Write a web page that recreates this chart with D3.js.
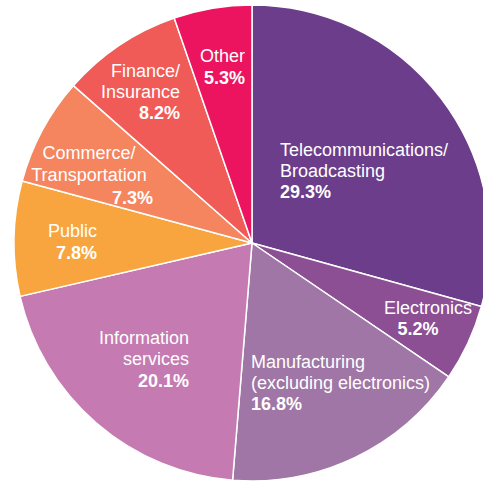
<!DOCTYPE html>
<html>
<head>
<meta charset="utf-8">
<script src="https://cdn.jsdelivr.net/npm/d3@7"></script>
<style>
  body { margin: 0; background: #fff; }
  svg text { font-family: "Liberation Sans", Arial, sans-serif; fill: #fff; }
</style>
</head>
<body>
<svg id="chart"></svg>
<script>
// Data (share of total, %)
const categories = ["Telecommunications/Broadcasting", "Electronics", "Manufacturing (excluding electronics)",
  "Information services", "Public", "Commerce/Transportation", "Finance/Insurance", "Other"];
const shares = [29.3, 5.2, 16.8, 20.1, 7.8, 7.3, 8.2, 5.3];
const labelLines = [
  ["Telecommunications/", "Broadcasting"],
  ["Electronics"],
  ["Manufacturing", "(excluding electronics)"],
  ["Information", "services"],
  ["Public"],
  ["Commerce/", "Transportation"],
  ["Finance/", "Insurance"],
  ["Other"]
];
const colors = ["#6c3d8b", "#8c4f94", "#9f76a5", "#c57ab1", "#f8a53f", "#f4855f", "#f05b57", "#ec145f"];

// Label placement relative to the pie centre: one [dx, dy, anchor] per line, percent last
const labelLayout = [
  [[28, -87, "start"], [28, -66, "start"], [28, -45, "start"]],
  [[220, 71, "end"], [166, 92, "middle"]],
  [[-1, 125, "start"], [-1, 146, "start"], [-1, 167, "start"]],
  [[-63, 101, "end"], [-63, 122, "end"], [-63, 144, "end"]],
  [[-155, -6, "end"], [-155, 16, "end"]],
  [[-163, -84, "middle"], [-163, -62, "middle"], [-99, -39, "end"]],
  [[-72, -166, "end"], [-72, -145, "end"], [-72, -124, "end"]],
  [[-7, -181, "end"], [-7, -159, "end"]]
];

const width = 483, height = 481;
const cx = 252, cy = 243, radius = 238;

const svg = d3.select("#chart")
  .attr("width", width)
  .attr("height", height);

const g = svg.append("g")
  .attr("transform", "translate(" + cx + "," + cy + ")");

const data = categories.map((c, i) => ({ name: c, value: shares[i], i: i }));

const pie = d3.pie()
  .sort(null)
  .value(d => d.value);

const arc = d3.arc()
  .innerRadius(0)
  .outerRadius(radius);

const color = d3.scaleOrdinal()
  .domain(categories)
  .range(colors);

// Slices
g.selectAll(".slice")
  .data(pie(data))
  .enter().append("path")
  .attr("class", "slice")
  .attr("d", arc)
  .attr("fill", d => color(d.data.name))
  .attr("stroke", "#fff")
  .attr("stroke-width", 1.5)
  .attr("stroke-linejoin", "round");

// Labels
data.forEach(function(d, i) {
  const lines = labelLines[i].concat([d3.format(".1f")(d.value) + "%"]);
  lines.forEach(function(line, j) {
    const pos = labelLayout[i][j];
    g.append("text")
      .attr("x", pos[0])
      .attr("y", pos[1])
      .attr("text-anchor", pos[2])
      .attr("font-size", 18)
      .attr("font-weight", j === lines.length - 1 ? "bold" : "normal")
      .text(line);
  });
});
</script>
</body>
</html>
